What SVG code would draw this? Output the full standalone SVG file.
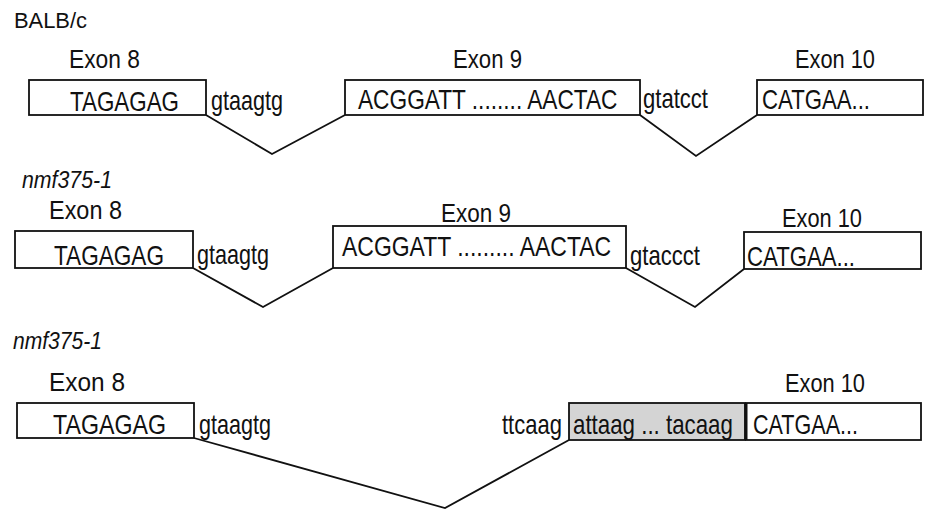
<svg xmlns="http://www.w3.org/2000/svg" width="925" height="520" viewBox="0 0 925 520">
<style>
text{font-family:"Liberation Sans",Arial,sans-serif;fill:#111}
.lbl{font-size:25px}
.seq{font-size:28px}
.ttl{font-size:22px}
.it{font-size:23px;font-style:italic}
.box{fill:#fff;stroke:#111;stroke-width:1.8}
.gray{fill:#d4d4d4;stroke:#111;stroke-width:1.8}
.con{fill:none;stroke:#111;stroke-width:1.8}
</style>
<rect width="925" height="520" fill="#fff"/>
<text class="ttl" x="14" y="28" textLength="73" lengthAdjust="spacingAndGlyphs">BALB/c</text>
<text class="it" x="22" y="188" textLength="90" lengthAdjust="spacingAndGlyphs">nmf375-1</text>
<text class="it" x="13" y="349" textLength="89" lengthAdjust="spacingAndGlyphs">nmf375-1</text>
<g id="connectors">
<polyline class="con" points="206,115 272,154 345,115"/>
<polyline class="con" points="640,115 696,156 757,115"/>
<polyline class="con" points="193,268 263,307 333,268"/>
<polyline class="con" points="626,268 695,307 744,269"/>
<polyline class="con" points="194,438 445,508 569,440"/>
</g>
<g id="r1-exon8">
<rect class="box" x="29" y="80" width="177" height="35"/>
<text class="lbl" x="69" y="68" textLength="71" lengthAdjust="spacingAndGlyphs">Exon 8</text>
<text class="seq" x="70" y="111" textLength="109" lengthAdjust="spacingAndGlyphs">TAGAGAG</text>
<text class="seq" x="211" y="110" textLength="72" lengthAdjust="spacingAndGlyphs">gtaagtg</text>
</g>
<g id="r1-exon9">
<rect class="box" x="345" y="80" width="295" height="35"/>
<text class="lbl" x="453" y="68" textLength="69" lengthAdjust="spacingAndGlyphs">Exon 9</text>
<text class="seq" transform="matrix(0.81,0,0,1,358,109)">ACGGATT ........  AACTAC</text>
<text class="seq" x="643" y="108" textLength="65" lengthAdjust="spacingAndGlyphs">gtatcct</text>
</g>
<g id="r1-exon10">
<rect class="box" x="757" y="80" width="166" height="35"/>
<text class="lbl" x="795" y="68" textLength="80" lengthAdjust="spacingAndGlyphs">Exon 10</text>
<text class="seq" x="762" y="109" textLength="108" lengthAdjust="spacingAndGlyphs">CATGAA...</text>
</g>
<g id="r2-exon8">
<rect class="box" x="15" y="231" width="178" height="37"/>
<text class="lbl" x="49" y="219" textLength="73" lengthAdjust="spacingAndGlyphs">Exon 8</text>
<text class="seq" x="54" y="265" textLength="110" lengthAdjust="spacingAndGlyphs">TAGAGAG</text>
<text class="seq" x="197" y="264" textLength="72" lengthAdjust="spacingAndGlyphs">gtaagtg</text>
</g>
<g id="r2-exon9">
<rect class="box" x="333" y="226" width="293" height="42"/>
<text class="lbl" x="441" y="222" textLength="70" lengthAdjust="spacingAndGlyphs">Exon 9</text>
<text class="seq" transform="matrix(0.82,0,0,1,342,256)">ACGGATT .........  AACTAC</text>
<text class="seq" x="630" y="265" textLength="70" lengthAdjust="spacingAndGlyphs">gtaccct</text>
</g>
<g id="r2-exon10">
<rect class="box" x="744" y="232" width="177" height="37"/>
<text class="lbl" x="782" y="227" textLength="80" lengthAdjust="spacingAndGlyphs">Exon 10</text>
<text class="seq" x="747" y="266" textLength="108" lengthAdjust="spacingAndGlyphs">CATGAA...</text>
</g>
<g id="r3-exon8">
<rect class="box" x="17" y="403" width="177" height="35"/>
<text class="lbl" x="49" y="391" textLength="76" lengthAdjust="spacingAndGlyphs">Exon 8</text>
<text class="seq" x="53" y="434" textLength="113" lengthAdjust="spacingAndGlyphs">TAGAGAG</text>
<text class="seq" x="199" y="434" textLength="72" lengthAdjust="spacingAndGlyphs">gtaagtg</text>
</g>
<g id="r3-insert">
<text class="seq" x="502" y="434" textLength="60" lengthAdjust="spacingAndGlyphs">ttcaag</text>
<rect class="gray" x="569" y="403" width="176" height="37"/>
<text class="seq" transform="matrix(0.797,0,0,1,573,434)">attaag ... tacaag</text>
</g>
<g id="r3-exon10">
<rect class="box" x="746" y="403" width="175" height="37"/>
<line x1="746" y1="403" x2="746" y2="440" stroke="#111" stroke-width="3"/>
<text class="lbl" x="785" y="392" textLength="80" lengthAdjust="spacingAndGlyphs">Exon 10</text>
<text class="seq" x="753" y="434" textLength="105" lengthAdjust="spacingAndGlyphs">CATGAA...</text>
</g>
</svg>
